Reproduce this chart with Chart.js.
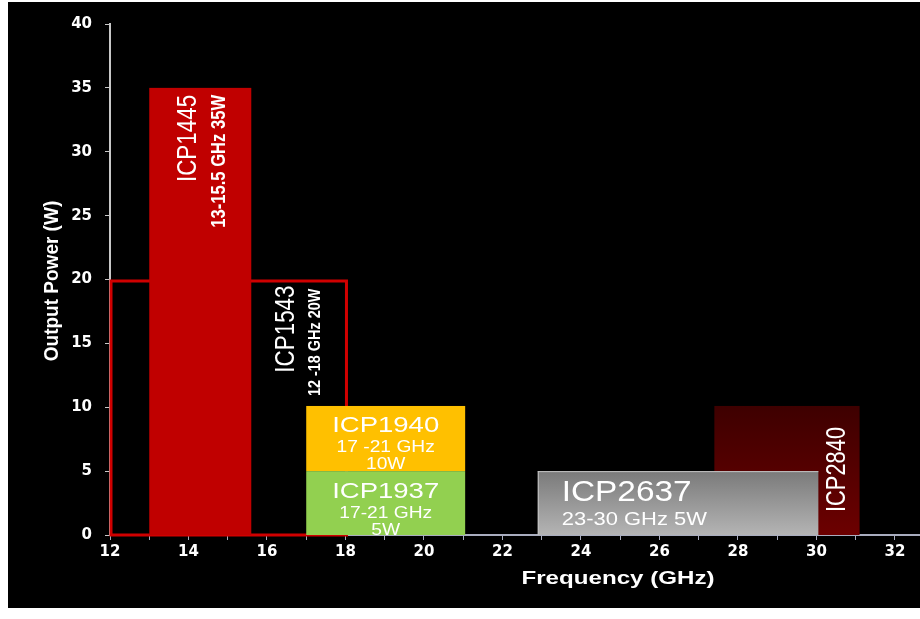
<!DOCTYPE html>
<html>
<head>
<meta charset="utf-8">
<title>Output power vs frequency</title>
<script src="https://cdn.jsdelivr.net/npm/chart.js@4.4.1/dist/chart.umd.min.js"></script>
<style>
  html, body { margin: 0; padding: 0; background: #fff; }
  #wrap { position: absolute; left: 8px; top: 2px; width: 912px; height: 606px; background: #000; }
</style>
</head>
<body>
<div id="wrap"><canvas id="chart"></canvas></div>
<script>
// Parts: frequency band (GHz) and output power band (W), in drawing order
const parts = ['ICP1543', 'ICP1445', 'ICP2840', 'ICP2637', 'ICP1940', 'ICP1937'];
const freqLow = [12, 13, 27.4, 22.9, 17, 17];
const freqHigh = [18, 15.6, 31.1, 30.05, 21.05, 21.05];
const powerLow = [0, 0, 0, 0, 5, 0];
const powerHigh = [20, 35, 10.1, 5, 10.1, 5];
const partNotes = [['12 -18 GHz 20W'], ['13-15.5 GHz 35W'], [], ['23-30 GHz 5W'], ['17 -21 GHz', '10W'], ['17-21 GHz', '5W']];

// Axis tick labels
const freqTickLabels = [12, 14, 16, 18, 20, 22, 24, 26, 28, 30, 32];
const powerTickLabels = [0, 5, 10, 15, 20, 25, 30, 35, 40];

const FONT = '"Liberation Sans", Arial, sans-serif';

// How each box looks; label lines are placed relative to the box (px)
const looks = [
  { fill: 'outline', color: '#d00000', rotate: true, from: 'right',
    text: [{ dx: -59, dy: 6, size: 28, sx: 0.8 }, { dx: -30, dy: 9, size: 17, sx: 0.85, bold: true }] },
  { fill: '#c00000', rotate: true, from: 'right',
    text: [{ dx: -63, dy: 7, size: 28, sx: 0.8 }, { dx: -32, dy: 7, size: 20, sx: 0.83, bold: true }] },
  { fill: ['#3e0000', '#6c0000'], rotate: true, from: 'right',
    text: [{ dx: -22, dy: 21, size: 28, sx: 0.78 }] },
  { fill: ['#7a7a7a', '#b4b4b4'], edge: '#c4c4c4', rotate: false, from: 'left',
    text: [{ dx: 24, dy: 22, size: 29, sx: 1.15 }, { dx: 24, dy: 49, size: 18, sx: 1.22 }] },
  { fill: '#ffc000', rotate: false, from: 'center',
    text: [{ dx: 0, dy: 20, size: 22, sx: 1.25 }, { dx: 0, dy: 42, size: 16, sx: 1.2 }, { dx: 0, dy: 59, size: 16, sx: 1.2 }] },
  { fill: '#92d050', rotate: false, from: 'center',
    text: [{ dx: 0, dy: 21, size: 22, sx: 1.25 }, { dx: 0, dy: 42, size: 16, sx: 1.2 }, { dx: 0, dy: 59, size: 16, sx: 1.2 }] }
];

function drawLine(ctx, str, x, y, t, rotate, align) {
  ctx.save();
  ctx.translate(x, y);
  if (rotate) ctx.rotate(-Math.PI / 2);
  ctx.scale(t.sx, 1);
  ctx.font = (t.bold ? 'bold ' : '') + t.size + 'px ' + FONT;
  ctx.textAlign = align;
  ctx.textBaseline = 'middle';
  ctx.fillText(str, 0, 0);
  ctx.restore();
}

const boxPlugin = {
  id: 'boxes',
  beforeDatasetsDraw(chart) {
    const ctx = chart.ctx;
    const xs = chart.scales.x, ys = chart.scales.y;
    parts.forEach((name, i) => {
      const look = looks[i];
      const left = xs.getPixelForValue(freqLow[i]);
      const right = xs.getPixelForValue(freqHigh[i]);
      const top = ys.getPixelForValue(powerHigh[i]);
      const bottom = ys.getPixelForValue(powerLow[i]);
      ctx.save();
      if (look.fill === 'outline') {
        ctx.strokeStyle = look.color;
        ctx.lineWidth = 3;
        ctx.strokeRect(left + 1, top + 1.5, right - left, bottom - top - 1.5);
      } else {
        if (Array.isArray(look.fill)) {
          const g = ctx.createLinearGradient(0, top, 0, bottom);
          g.addColorStop(0, look.fill[0]);
          g.addColorStop(1, look.fill[1]);
          ctx.fillStyle = g;
        } else {
          ctx.fillStyle = look.fill;
        }
        ctx.fillRect(left, top, right - left, bottom - top);
        if (look.edge) {
          ctx.fillStyle = look.edge;
          ctx.fillRect(left, top, right - left, 1);
          ctx.fillRect(left, top, 1, bottom - top);
        }
      }
      // labels, clipped to the box
      ctx.beginPath();
      ctx.rect(left, top, right - left + 4, bottom - top);
      ctx.clip();
      ctx.fillStyle = '#ffffff';
      const lines = [name].concat(partNotes[i]);
      lines.forEach((str, j) => {
        const t = look.text[j];
        let x = left;
        if (look.from === 'right') x = right;
        if (look.from === 'center') x = (left + right) / 2;
        const align = look.rotate ? 'right' : (look.from === 'center' ? 'center' : 'left');
        drawLine(ctx, str, x + t.dx, top + t.dy, t, look.rotate, align);
      });
      ctx.restore();
    });
  },
  afterDraw(chart) {
    const ctx = chart.ctx;
    ctx.fillStyle = '#ffffff';
    drawLine(ctx, 'Output Power (W)', 44, 279, { size: 20, sx: 0.95, bold: true }, true, 'center');
    drawLine(ctx, 'Frequency (GHz)', 610, 577, { size: 19, sx: 1.27, bold: true }, false, 'center');
  }
};

const tickFont = { family: '"DejaVu Sans", sans-serif', weight: 'bold', size: 15 };

new Chart(document.getElementById('chart'), {
  type: 'scatter',
  data: { datasets: [] },
  options: {
    responsive: true,
    maintainAspectRatio: false,
    animation: false,
    layout: { padding: { top: 20, left: 0, right: 0, bottom: 0 } },
    plugins: { legend: { display: false }, tooltip: { enabled: false } },
    scales: {
      x: {
        type: 'linear', min: 12, max: 32.64, z: 1,
        afterFit: s => { s.height = 73; },
        ticks: {
          stepSize: 1, includeBounds: false, autoSkip: false, maxRotation: 0,
          color: '#ffffff', font: tickFont, padding: 3,
          callback: v => freqTickLabels.includes(v) ? String(v) : ''
        },
        grid: { drawOnChartArea: false, drawTicks: true, tickLength: 5, color: '#a9adbf' },
        border: { color: '#a9adbf', width: 2 }
      },
      y: {
        type: 'linear', min: 0, max: 40, z: 1,
        afterFit: s => { s.width = 102; },
        ticks: {
          stepSize: 5, color: '#ffffff', font: tickFont, padding: 13,
          callback: v => powerTickLabels.includes(v) ? String(v) : ''
        },
        grid: { drawOnChartArea: false, drawTicks: true, tickLength: 5, color: '#c8c8c8' },
        border: { color: '#c8c8c8', width: 2 }
      }
    }
  },
  plugins: [boxPlugin]
});
</script>
</body>
</html>
